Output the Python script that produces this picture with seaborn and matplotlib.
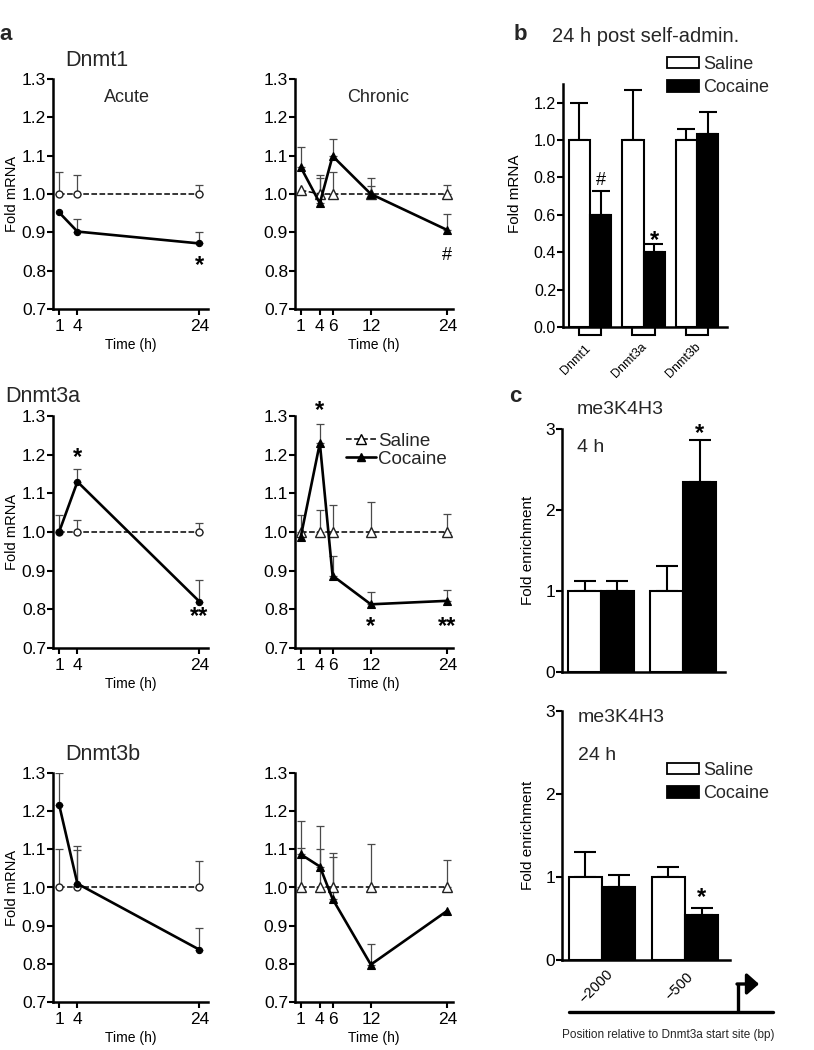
import numpy as np
import pandas as pd
import matplotlib
matplotlib.use("Agg")
import matplotlib.pyplot as plt
import seaborn as sns
from matplotlib.patches import Patch, FancyArrowPatch
from matplotlib.lines import Line2D

# ---------------- data ----------------
acute_t = [1, 4, 24]
chronic_t = [1, 4, 6, 12, 24]

dnmt1_acute_sal = [1.00, 1.00, 1.00]
dnmt1_acute_sal_err = [0.058, 0.050, 0.024]
dnmt1_acute_coc = [0.952, 0.902, 0.871]
dnmt1_acute_coc_err = [0.0, 0.034, 0.031]
dnmt1_chronic_sal = [1.01, 1.00, 1.00, 1.00, 1.00]
dnmt1_chronic_sal_err = [0.0, 0.050, 0.058, 0.021, 0.023]
dnmt1_chronic_coc = [1.07, 0.976, 1.099, 1.00, 0.906]
dnmt1_chronic_coc_err = [0.053, 0.065, 0.044, 0.041, 0.042]

dnmt3a_acute_sal = [1.00, 1.00, 1.00]
dnmt3a_acute_sal_err = [0.0, 0.031, 0.023]
dnmt3a_acute_coc = [1.00, 1.13, 0.82]
dnmt3a_acute_coc_err = [0.044, 0.032, 0.056]
dnmt3a_chronic_sal = [1.00, 1.00, 1.00, 1.00, 1.00]
dnmt3a_chronic_sal_err = [0.043, 0.058, 0.070, 0.078, 0.046]
dnmt3a_chronic_coc = [0.987, 1.23, 0.887, 0.813, 0.822]
dnmt3a_chronic_coc_err = [0.0, 0.050, 0.051, 0.032, 0.029]

dnmt3b_acute_sal = [1.00, 1.00, 1.00]
dnmt3b_acute_sal_err = [0.100, 0.099, 0.070]
dnmt3b_acute_coc = [1.217, 1.01, 0.837]
dnmt3b_acute_coc_err = [0.083, 0.100, 0.057]
dnmt3b_chronic_sal = [1.00, 1.00, 1.00, 1.00, 1.00]
dnmt3b_chronic_sal_err = [0.103, 0.100, 0.079, 0.113, 0.072]
dnmt3b_chronic_coc = [1.087, 1.055, 0.970, 0.798, 0.939]
dnmt3b_chronic_coc_err = [0.086, 0.106, 0.120, 0.055, 0.0]

genes_b = ["Dnmt1", "Dnmt3a", "Dnmt3b"]
b_sal = [1.00, 1.00, 1.00]
b_sal_err = [0.20, 0.27, 0.058]
b_coc = [0.60, 0.40, 1.03]
b_coc_err = [0.13, 0.043, 0.12]

positions_c = ["\u22122000", "\u2212500"]
c4_sal = [1.0, 1.0]
c4_sal_err = [0.12, 0.31]
c4_coc = [1.0, 2.34]
c4_coc_err = [0.12, 0.53]
c24_sal = [1.0, 1.0]
c24_sal_err = [0.30, 0.115]
c24_coc = [0.88, 0.54]
c24_coc_err = [0.15, 0.09]

# ---------------- style ----------------
sns.set_theme(style="ticks")
plt.rcParams['font.family'] = ['Liberation Sans', 'DejaVu Sans']
plt.rcParams['axes.linewidth'] = 1.8

W, H = 814, 1050
fig = plt.figure(figsize=(W / 100, H / 100), dpi=100)


def fx(px):
    return px / W


def fy(py):
    return 1 - py / H


def add_ax(l, t, r, b):
    return fig.add_axes([l / W, 1 - b / H, (r - l) / W, (b - t) / H])


def style_axis(ax, labelsize=11):
    for s in ['top', 'right']:
        ax.spines[s].set_visible(False)
    for s in ['left', 'bottom']:
        ax.spines[s].set_linewidth(1.8)
        ax.spines[s].set_color('black')
    ax.tick_params(width=1.5, length=4, labelsize=labelsize, direction='out',
                   color='black', labelcolor='black')
    ax.set_facecolor('none')


def mark(ax, x, y, s, size=17):
    if '*' in s:
        off = -0.57 * size
        weight = 'bold'
    else:
        off = -0.36 * size
        weight = 'normal'
    ax.annotate(s, xy=(x, y), xytext=(0, off), textcoords='offset points',
                ha='center', va='baseline', fontsize=size, color='black',
                fontweight=weight, annotation_clip=False)


def line_panel(ax, t, sal, sal_err, coc, coc_err, marker, xlim, xlabel_pad=3):
    for vals, errs in [(sal, sal_err), (coc, coc_err)]:
        sel = [i for i, e in enumerate(errs) if e > 0]
        tt = [t[i] for i in sel]
        vv = [vals[i] for i in sel]
        ee = [errs[i] for i in sel]
        ax.errorbar(tt, vv, yerr=[np.zeros(len(ee)), ee], fmt='none',
                    ecolor='#4a4a4a', elinewidth=0.9, capsize=3.2,
                    capthick=0.9, zorder=2)
    df_s = pd.DataFrame({"t": t, "v": sal})
    df_c = pd.DataFrame({"t": t, "v": coc})
    ms = 5.0 if marker == 'o' else 6.5
    sns.lineplot(data=df_s, x="t", y="v", ax=ax, color='black', linestyle='--',
                 linewidth=1.1, marker=marker, markersize=ms,
                 markerfacecolor='white', markeredgecolor='#222222',
                 markeredgewidth=1.0, zorder=3)
    sns.lineplot(data=df_c, x="t", y="v", ax=ax, color='black', linestyle='-',
                 linewidth=1.9, marker=marker, markersize=ms - 0.5,
                 markerfacecolor='black', markeredgecolor='black',
                 markeredgewidth=0.8, zorder=4)
    ax.set_xlim(*xlim)
    ax.set_ylim(0.7, 1.3)
    yt = np.round(np.arange(0.7, 1.301, 0.1), 1)
    ax.set_yticks(yt)
    ax.set_yticklabels([f"{v:.1f}" for v in yt])
    ax.set_xticks(t)
    ax.set_xticklabels([str(v) for v in t])
    style_axis(ax, labelsize=12.5)
    ax.tick_params(axis='y', pad=1)
    ax.tick_params(axis='x', pad=3)
    ax.set_xlabel("Time (h)", fontsize=10, labelpad=xlabel_pad, color='black')
    ax.set_ylabel("")


# ---------------- panel a ----------------
rows = [(79, 309), (416, 648), (773, 1002)]
acute_lr = (53, 208)
chronic_lr = (295, 453)

data_rows = [
    (dnmt1_acute_sal, dnmt1_acute_sal_err, dnmt1_acute_coc, dnmt1_acute_coc_err,
     dnmt1_chronic_sal, dnmt1_chronic_sal_err, dnmt1_chronic_coc, dnmt1_chronic_coc_err),
    (dnmt3a_acute_sal, dnmt3a_acute_sal_err, dnmt3a_acute_coc, dnmt3a_acute_coc_err,
     dnmt3a_chronic_sal, dnmt3a_chronic_sal_err, dnmt3a_chronic_coc, dnmt3a_chronic_coc_err),
    (dnmt3b_acute_sal, dnmt3b_acute_sal_err, dnmt3b_acute_coc, dnmt3b_acute_coc_err,
     dnmt3b_chronic_sal, dnmt3b_chronic_sal_err, dnmt3b_chronic_coc, dnmt3b_chronic_coc_err),
]

axes_a = []
for (top, bot), d in zip(rows, data_rows):
    axa = add_ax(acute_lr[0], top, acute_lr[1], bot)
    line_panel(axa, acute_t, d[0], d[1], d[2], d[3], 'o', (0.0, 25.4))
    axa.set_ylabel("Fold mRNA", fontsize=10.5, color='black')
    axa.yaxis.set_label_coords((19 - acute_lr[0]) / (acute_lr[1] - acute_lr[0]), 0.5)
    axc = add_ax(chronic_lr[0], top, chronic_lr[1], bot)
    line_panel(axc, chronic_t, d[4], d[5], d[6], d[7], '^', (0.1, 24.9))
    axes_a.append((axa, axc))

# annotations
mark(axes_a[0][0], 24, 0.832, "*")
mark(axes_a[0][1], 24, 0.845, "#", size=13)
mark(axes_a[1][0], 4, 1.21, "*")
mark(axes_a[1][0], 24, 0.800, "**")
mark(axes_a[1][1], 4, 1.331, "*")
mark(axes_a[1][1], 12, 0.773, "*")
mark(axes_a[1][1], 24, 0.773, "**")

# legend in Dnmt3a chronic
h_sal = Line2D([], [], color='black', ls='--', lw=1.1, marker='^', ms=6.5,
               mfc='white', mec='black', mew=1.0)
h_coc = Line2D([], [], color='black', ls='-', lw=1.9, marker='^', ms=6,
               mfc='black', mec='black')
axes_a[1][1].legend([h_sal, h_coc], ["Saline", "Cocaine"], loc='center left',
                    bbox_to_anchor=(fx(346), fy(450)), bbox_transform=fig.transFigure,
                    frameon=False, fontsize=13.5, handlelength=1.6, handletextpad=0.12,
                    borderpad=0, borderaxespad=0, labelspacing=0.05)

# panel a texts
fig.text(fx(6), fy(35), "a", fontsize=16, fontweight='bold', ha='center', va='center')
fig.text(fx(65), fy(60), "Dnmt1", fontsize=15.5, ha='left', va='center')
fig.text(fx(5), fy(397), "Dnmt3a", fontsize=15.5, ha='left', va='center')
fig.text(fx(65), fy(755), "Dnmt3b", fontsize=15.5, ha='left', va='center')
fig.text(fx(127), fy(98), "Acute", fontsize=13, ha='center', va='center')
fig.text(fx(378), fy(98), "Chronic", fontsize=13, ha='center', va='center')

# ---------------- panel b ----------------
axb = add_ax(563, 84, 727, 327)
df_b = pd.DataFrame({"gene": genes_b * 2,
                     "cond": ["Saline"] * 3 + ["Cocaine"] * 3,
                     "val": b_sal + b_coc})
sns.barplot(data=df_b, x="gene", y="val", hue="cond", hue_order=["Saline", "Cocaine"],
            palette=["white", "black"], saturation=1, edgecolor="black", linewidth=1.5,
            width=0.8, errorbar=None, legend=False, ax=axb)
for cont, errs in zip(axb.containers, [b_sal_err, b_coc_err]):
    xs = [p.get_x() + p.get_width() / 2 for p in cont]
    hs = [p.get_height() for p in cont]
    axb.errorbar(xs, hs, yerr=[np.zeros(len(errs)), errs], fmt='none', ecolor='black',
                 elinewidth=1.5, capsize=6.5, capthick=1.5, zorder=0)
axb.set_xlim(-0.505, 2.56)
axb.set_ylim(0, 1.3)
ytb = np.round(np.arange(0, 1.21, 0.2), 1)
axb.set_yticks(ytb)
axb.set_yticklabels([f"{v:.1f}" for v in ytb])
style_axis(axb, labelsize=11.5)
axb.tick_params(axis='y', pad=1)
axb.set_xticks([])
axb.set_xlabel("")
axb.set_ylabel("Fold mRNA", fontsize=11, color='black')
axb.yaxis.set_label_coords((522 - 563) / 164, 0.55)
for i, g in enumerate(genes_b):
    axb.plot([i - 0.21, i - 0.21, i + 0.21, i + 0.21], [0, -0.034, -0.034, 0],
             transform=axb.get_xaxis_transform(), color='black', lw=1.5,
             clip_on=False, solid_joinstyle='miter')
    axb.annotate(g, xy=(i, 0), xycoords=('data', 'axes fraction'), xytext=(-10, -24),
                 textcoords='offset points', rotation=45, ha='center', va='center',
                 fontsize=9, color='black', annotation_clip=False)
mark(axb, 0 + 0.2, 0.795, "#", size=13)
mark(axb, 1 + 0.2, 0.50, "*")

leg_handles = [Patch(facecolor='white', edgecolor='black', lw=1.3),
               Patch(facecolor='black', edgecolor='black', lw=1.3)]
fig.legend(leg_handles, ["Saline", "Cocaine"], loc='center left',
           bbox_to_anchor=(fx(667), fy(76)), frameon=False, fontsize=13,
           handlelength=1.75, handleheight=0.6, handletextpad=0.25,
           borderpad=0, borderaxespad=0, labelspacing=0.35)
fig.text(fx(520), fy(35), "b", fontsize=16, fontweight='bold', ha='center', va='center')
fig.text(fx(552), fy(36), "24 h post self-admin.", fontsize=14.5, ha='left', va='center')


# ---------------- panel c ----------------
def bar_c(ax, sal, sal_err, coc, coc_err, xlim):
    df = pd.DataFrame({"pos": positions_c * 2,
                       "cond": ["Saline"] * 2 + ["Cocaine"] * 2,
                       "val": sal + coc})
    sns.barplot(data=df, x="pos", y="val", hue="cond", hue_order=["Saline", "Cocaine"],
                palette=["white", "black"], saturation=1, edgecolor="black",
                linewidth=1.5, width=0.8, errorbar=None, legend=False, ax=ax)
    for cont, errs in zip(ax.containers, [sal_err, coc_err]):
        xs = [p.get_x() + p.get_width() / 2 for p in cont]
        hs = [p.get_height() for p in cont]
        ax.errorbar(xs, hs, yerr=[np.zeros(len(errs)), errs], fmt='none',
                    ecolor='black', elinewidth=1.5, capsize=8, capthick=1.5, zorder=0)
    ax.set_xlim(*xlim)
    ax.set_ylim(0, 3)
    ax.set_yticks([0, 1, 2, 3])
    ax.set_yticklabels(["0", "1", "2", "3"])
    style_axis(ax, labelsize=12.5)
    ax.tick_params(axis='y', pad=1)
    ax.set_xticks([])
    ax.set_xlabel("")
    ax.set_ylabel("Fold enrichment", fontsize=11, color='black')
    ax.yaxis.set_label_coords((535 - 562) / 165, 0.5)


axc1 = add_ax(562, 429, 725, 672)
bar_c(axc1, c4_sal, c4_sal_err, c4_coc, c4_coc_err, (-0.476, 1.51))
mark(axc1, 1 + 0.2, 3.03, "*")
fig.text(fx(515), fy(397), "c", fontsize=16, fontweight='bold', ha='center', va='center')
fig.text(fx(577), fy(409), "me3K4H3", fontsize=14, ha='left', va='center')
fig.text(fx(577), fy(447), "4 h", fontsize=14, ha='left', va='center')

axc2 = add_ax(562, 711, 730, 960)
bar_c(axc2, c24_sal, c24_sal_err, c24_coc, c24_coc_err, (-0.48, 1.54))
mark(axc2, 1 + 0.2, 0.842, "*")
for i, p in enumerate(positions_c):
    axc2.annotate(p, xy=(i, 0), xycoords=('data', 'axes fraction'), xytext=(-4, -19),
                  textcoords='offset points', rotation=45, ha='center', va='center',
                  fontsize=10.5, color='black', annotation_clip=False)
fig.text(fx(578), fy(717), "me3K4H3", fontsize=14, ha='left', va='center')
fig.text(fx(578), fy(755), "24 h", fontsize=14, ha='left', va='center')
fig.legend(leg_handles, ["Saline", "Cocaine"], loc='center left',
           bbox_to_anchor=(fx(667), fy(782)), frameon=False, fontsize=13,
           handlelength=1.75, handleheight=0.6, handletextpad=0.25,
           borderpad=0, borderaxespad=0, labelspacing=0.35)

# promoter schematic
fig.add_artist(Line2D([fx(569), fx(773)], [fy(1012), fy(1012)], color='black', lw=2.4,
                      transform=fig.transFigure))
fig.add_artist(Line2D([fx(738), fx(738)], [fy(1012), fy(984)], color='black', lw=2.4,
                      transform=fig.transFigure, solid_capstyle='butt'))
fig.add_artist(FancyArrowPatch((fx(737), fy(984)), (fx(759), fy(984)),
                               arrowstyle='-|>,head_length=0.45,head_width=0.4',
                               mutation_scale=16, lw=2.4, color='black',
                               transform=fig.transFigure, shrinkA=0, shrinkB=0))
fig.text(fx(668), fy(1035), "Position relative to Dnmt3a start site (bp)", fontsize=8.5,
         ha='center', va='center')

fig.savefig("out.png", dpi=100, facecolor='white')
